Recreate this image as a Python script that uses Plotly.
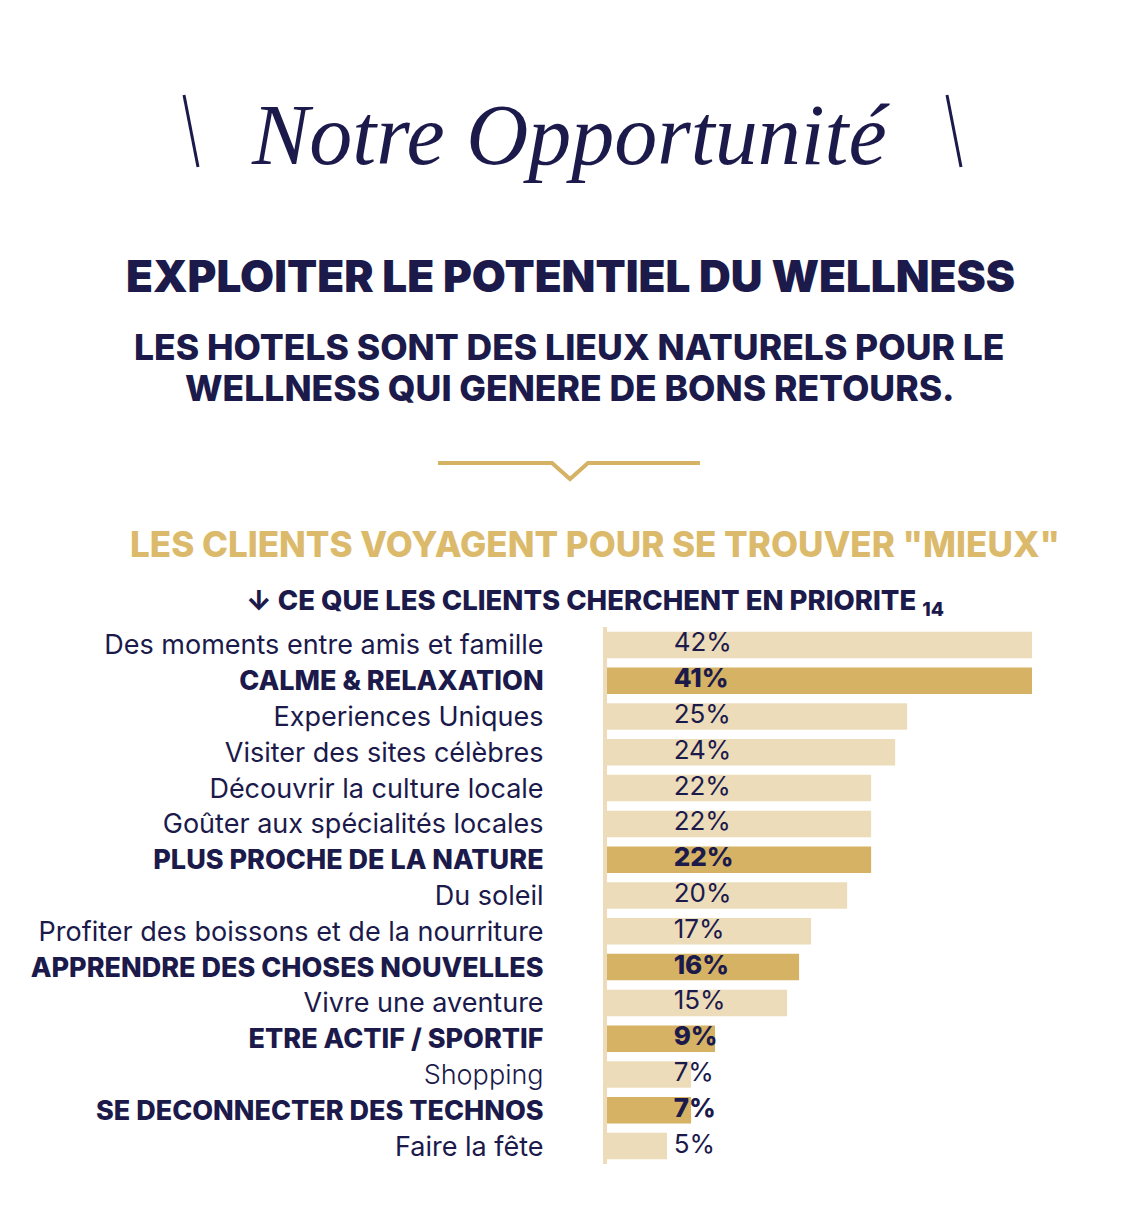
import plotly.graph_objects as go

# page body has an 8px margin, so the figure is a bit smaller than the window
OFF = 8
W, H = 1146 - 2 * OFF, 1226 - 2 * OFF
L, R, T, B = 607 - OFF, W - (1032 - OFF), 627 - OFF, H - (1164 - OFF)

categories = [
    "Des moments entre amis et famille",
    "CALME & RELAXATION",
    "Experiences Uniques",
    "Visiter des sites célèbres",
    "Découvrir la culture locale",
    "Goûter aux spécialités locales",
    "PLUS PROCHE DE LA NATURE",
    "Du soleil",
    "Profiter des boissons et de la nourriture",
    "APPRENDRE DES CHOSES NOUVELLES",
    "Vivre une aventure",
    "ETRE ACTIF / SPORTIF",
    "Shopping",
    "SE DECONNECTER DES TECHNOS",
    "Faire la fête",
]
values = [42, 41, 25, 24, 22, 22, 22, 20, 17, 16, 15, 9, 7, 7, 5]
highlight = [False, True, False, False, False, False, True, False, False,
             True, False, True, False, True, False]

NAVY = "#1b1a4b"
LIGHT = "#ecdcba"
GOLD = "#d6b264"
HEAD_GOLD = "#dcba6c"
FONT = "Inter, 'Open Sans', sans-serif"


def px(x):
    # reference pixel -> paper x
    return (x - OFF - L) / (W - L - R)


def py(y):
    # reference pixel -> paper y
    return (H - B - (y - OFF)) / (H - T - B)


bar_colors = [GOLD if h else LIGHT for h in highlight]
tick_text = []
for c, h in zip(categories, highlight):
    if h:
        tick_text.append(f"<span style='font-weight:800'>{c}</span>")
    elif c == "Shopping":
        tick_text.append(f"<span style='font-weight:300'>{c}</span>")
    else:
        tick_text.append(c)

fig = go.Figure()
fig.add_trace(go.Bar(
    x=values, y=categories, orientation="h",
    marker=dict(color=bar_colors, line=dict(width=0)),
    width=0.74, hoverinfo="skip",
))

# value labels, normal and bold rows
for flag, weight in [(False, 400), (True, 800)]:
    ys = [c for c, h in zip(categories, highlight) if h == flag]
    tx = [f"{v}%" for v, h in zip(values, highlight) if h == flag]
    fig.add_trace(go.Scatter(
        x=[5.55] * len(ys), y=ys, text=tx, mode="text",
        textposition="middle right",
        textfont=dict(family=FONT, size=26, color=NAVY, weight=weight),
        cliponaxis=False, hoverinfo="skip",
    ))

fig.update_layout(
    width=W, height=H, autosize=False,
    margin=dict(l=L, r=R, t=T, b=B),
    paper_bgcolor="white", plot_bgcolor="white",
    showlegend=False,
    xaxis=dict(range=[0, 35.4], visible=False, fixedrange=True),
    yaxis=dict(
        range=[len(categories) - 0.5, -0.5], showgrid=False, zeroline=False,
        showline=True, linecolor=LIGHT, linewidth=4,
        ticks="", ticklabelstandoff=54,
        tickmode="array", tickvals=categories, ticktext=tick_text,
        tickfont=dict(family=FONT, size=27, color=NAVY),
        fixedrange=True,
    ),
)

annotations = [
    dict(text="Notre Opportunité", x=px(570), y=py(135),
         font=dict(family="'Liberation Serif', serif", size=86, color=NAVY,
                   style="italic")),
    dict(text="EXPLOITER LE POTENTIEL DU WELLNESS", x=px(570), y=py(276),
         font=dict(family=FONT, size=44, color=NAVY, weight=900)),
    dict(text="LES HOTELS SONT DES LIEUX NATURELS POUR LE", x=px(569), y=py(347),
         font=dict(family=FONT, size=35.5, color=NAVY, weight=800)),
    dict(text="WELLNESS QUI GENERE DE BONS RETOURS.", x=px(570), y=py(388),
         font=dict(family=FONT, size=35.5, color=NAVY, weight=800)),
    dict(text='LES CLIENTS VOYAGENT POUR SE TROUVER "MIEUX"', x=px(595), y=py(544),
         font=dict(family=FONT, size=35, color=HEAD_GOLD, weight=800)),
    dict(text="↓ CE QUE LES CLIENTS CHERCHENT EN PRIORITE <sub>14</sub>",
         x=px(595), y=py(602),
         font=dict(family=FONT, size=27.5, color=NAVY, weight=800)),
]
for a in annotations:
    a.update(xref="paper", yref="paper", showarrow=False,
             xanchor="center", yanchor="middle")
    fig.add_annotation(**a)

line = dict(color=NAVY, width=3)
fig.add_shape(type="line", xref="paper", yref="paper",
              x0=px(184), y0=py(95), x1=px(198), y1=py(167), line=line)
fig.add_shape(type="line", xref="paper", yref="paper",
              x0=px(947), y0=py(95), x1=px(961), y1=py(167), line=line)

chev = (f"M {px(438)} {py(463)} L {px(552)} {py(463)} L {px(570)} {py(479)} "
        f"L {px(588)} {py(463)} L {px(700)} {py(463)}")
fig.add_shape(type="path", xref="paper", yref="paper", path=chev,
              line=dict(color=GOLD, width=4))

fig.write_html("out.html")
